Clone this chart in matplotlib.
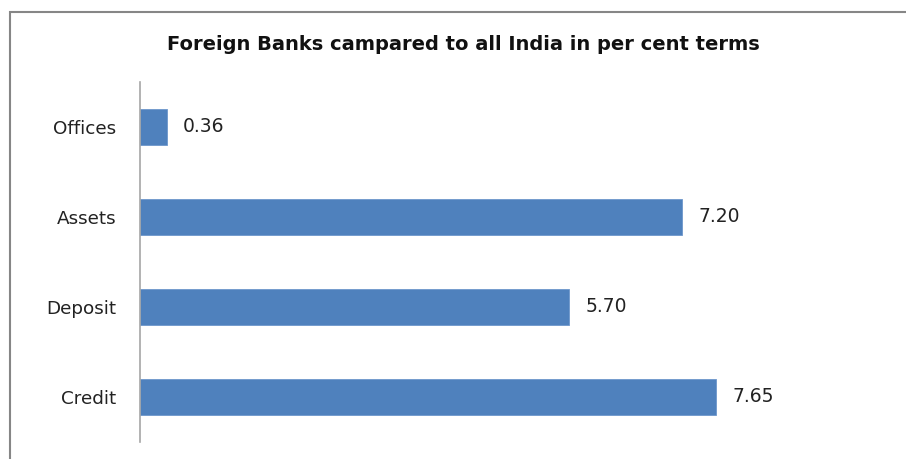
import matplotlib
matplotlib.use("Agg")
import matplotlib.pyplot as plt
from matplotlib.patches import Rectangle

categories = ["Offices", "Assets", "Deposit", "Credit"]
values = [0.36, 7.20, 5.70, 7.65]
value_labels = ["0.36", "7.20", "5.70", "7.65"]
title = "Foreign Banks campared to all India in per cent terms"

plt.rcParams['font.family'] = ['DejaVu Sans']

fig = plt.figure(figsize=(9.06, 4.59), dpi=100)
fig.patch.set_facecolor("white")
fig.patches.append(Rectangle((9.5/906, -0.2), 1.5, 0.2 + 1 - 12/459, transform=fig.transFigure,
                             fill=False, edgecolor="#868686", linewidth=1.5, zorder=0))

ax = fig.add_axes([140/906, 1 - 442/459, (893 - 140)/906, (442 - 82)/459])
y = list(range(len(categories)))
ax.barh(y, values, height=0.4, color="#4F81BD", edgecolor="#6D97CC", linewidth=0.6)
ax.set_xlim(0, 10)
ax.set_ylim(len(categories) - 0.5, -0.5)
ax.set_yticks(y)
ax.set_yticklabels(categories, fontsize=13.2, color="#222222")
ax.tick_params(axis="y", length=0, pad=17)
ax.set_xticks([])
for s in ["top", "right", "bottom"]:
    ax.spines[s].set_visible(False)
ax.spines["left"].set_color("#a6a6a6")
ax.spines["left"].set_linewidth(1.2)

for yi, v, lab in zip(y, values, value_labels):
    ax.annotate(lab, (v, yi), xytext=(11.5, 0), textcoords="offset points",
                va="center", ha="left", fontsize=13.5, color="#222222")

fig.text(463/906, 1 - 45/459, title, ha="center", va="center", fontsize=14,
         fontweight="bold", color="#111111")

fig.savefig("out.png", dpi=100)
